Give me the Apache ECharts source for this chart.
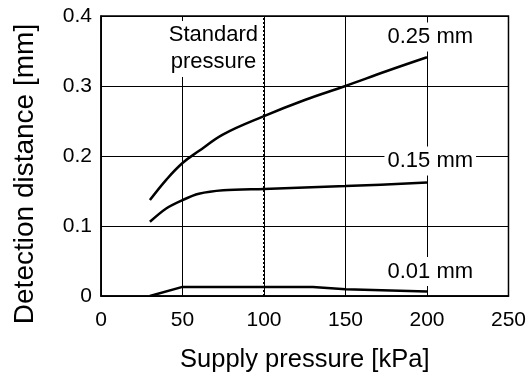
<!DOCTYPE html>
<html>
<head>
<meta charset="utf-8">
<script src="https://cdn.jsdelivr.net/npm/echarts@6/dist/echarts.min.js"></script>
<style>html,body{margin:0;padding:0;background:#fff}#c{width:529px;height:378px}</style>
</head>
<body>
<div id="c"></div>
<script>
const xTicks = [0, 50, 100, 150, 200, 250];
const yTicks = [0, 0.1, 0.2, 0.3, 0.4];
const pressure25 = [30, 40, 50, 60, 75, 100, 125, 150, 175, 200];
const dist25 = [0.137, 0.166, 0.190, 0.207, 0.231, 0.257, 0.280, 0.300, 0.321, 0.341];
const pressure15 = [30, 40, 50, 60, 75, 100, 150, 200];
const dist15 = [0.106, 0.125, 0.137, 0.146, 0.151, 0.153, 0.157, 0.162];
const pressure01 = [30, 50, 100, 130, 150, 200];
const dist01 = [0.000, 0.013, 0.013, 0.013, 0.0095, 0.0066];
const standardPressure = 100;
const labels = ['0.25 mm', '0.15 mm', '0.01 mm'];
const labelPos = [[202, 0.37], [202, 0.193], [202, 0.035]];
const stdLabel = 'Standard\npressure';
const stdLabelPos = [69, 0.353];

const FONT = 'Liberation Sans, Arial, sans-serif';
const chart = echarts.init(document.getElementById('c'), null, {renderer: 'canvas'});

function pair(xs, ys) { return xs.map((x, i) => [x, ys[i]]); }
function lbl(text, pos) {
  return {
    coord: pos, value: text,
    symbol: 'rect', symbolSize: 0,
    label: {
      show: true, position: 'inside', formatter: text,
      fontFamily: FONT, fontSize: 22, color: '#000',
      backgroundColor: '#fff', padding: [1, 3], lineHeight: 27
    }
  };
}

chart.setOption({
  animation: false,
  grid: {left: 101, right: 20, top: 16, bottom: 80, show: true, borderColor: '#000', borderWidth: 1.5},
  xAxis: {
    type: 'value', min: 0, max: 250, interval: 50,
    name: 'Supply pressure [kPa]', nameLocation: 'middle', nameGap: 51,
    nameTextStyle: {fontFamily: FONT, fontSize: 25.5, color: '#000'},
    axisLine: {show: true, lineStyle: {color: '#000', width: 1.5}},
    axisTick: {show: false},
    axisLabel: {fontFamily: FONT, fontSize: 21, color: '#000', margin: 14,
      formatter: v => xTicks.includes(v) ? String(v) : ''},
    splitLine: {show: true, lineStyle: {color: '#000', width: 1}}
  },
  yAxis: {
    type: 'value', min: 0, max: 0.4, interval: 0.1,
    name: 'Detection distance [mm]', nameLocation: 'middle', nameGap: 62,
    nameTextStyle: {fontFamily: FONT, fontSize: 28, color: '#000', padding: [0, 36, 0, 0]},
    axisLine: {show: true, lineStyle: {color: '#000', width: 1.5}},
    axisTick: {show: false},
    axisLabel: {fontFamily: FONT, fontSize: 21, color: '#000', margin: 9,
      formatter: v => { const t = yTicks.find(k => Math.abs(k - v) < 1e-9); return t === undefined ? '' : (t === 0 ? '0' : t.toFixed(1)); }},
    splitLine: {show: true, lineStyle: {color: '#000', width: 1}}
  },
  series: [
    {
      type: 'line', data: [[standardPressure, 0], [standardPressure, 0.4]],
      showSymbol: false, silent: true, z: 3,
      lineStyle: {color: '#000', width: 2, type: [2, 2]},
      markPoint: {silent: true, data: [lbl(stdLabel, stdLabelPos)]}
    },
    {
      type: 'line', data: pair(pressure25, dist25), smooth: 0.4, showSymbol: false,
      lineStyle: {color: '#000', width: 2.5}, z: 4,
      markPoint: {silent: true, data: [lbl(labels[0], labelPos[0])]}
    },
    {
      type: 'line', data: pair(pressure15, dist15), smooth: 0.3, showSymbol: false,
      lineStyle: {color: '#000', width: 2.5}, z: 4,
      markPoint: {silent: true, data: [lbl(labels[1], labelPos[1])]}
    },
    {
      type: 'line', data: pair(pressure01, dist01), smooth: false, showSymbol: false,
      lineStyle: {color: '#000', width: 2.5}, z: 4,
      markPoint: {silent: true, data: [lbl(labels[2], labelPos[2])]}
    }
  ]
});
</script>
</body>
</html>
